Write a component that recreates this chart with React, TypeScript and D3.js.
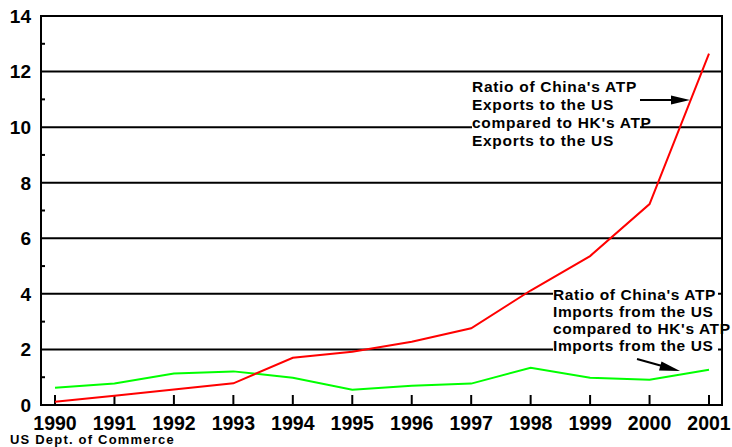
import React from "react";
import * as d3 from "d3";

const years = [1990, 1991, 1992, 1993, 1994, 1995, 1996, 1997, 1998, 1999, 2000, 2001];
const exportsRatio = [0.12, 0.33, 0.56, 0.78, 1.7, 1.92, 2.28, 2.76, 4.12, 5.36, 7.23, 12.65];
const importsRatio = [0.62, 0.77, 1.13, 1.21, 0.98, 0.55, 0.69, 0.77, 1.34, 0.98, 0.91, 1.27];
const yMajorTicks = [0, 2, 4, 6, 8, 10, 12, 14];
const yMinorTicks = [1, 3, 5, 7, 9, 11, 13];
const exportsLabel = ["Ratio of China's ATP", "Exports to the US", "compared to HK's ATP", "Exports to the US"];
const importsLabel = ["Ratio of China's ATP", "Imports from the US", "compared to HK's ATP", "Imports from the US"];
const source = "US Dept. of Commerce";

const W = 732;
const H = 447;
const left = 41;
const right = 722;

export default function App() {
  const x = d3.scaleLinear().domain([1990, 2001]).range([55, 709]);
  const y = d3.scaleLinear().domain([0, 14]).range([405, 16]);
  const line = d3
    .line<number>()
    .x((_, i) => x(years[i]))
    .y((d) => y(d));
  const font = "'Liberation Sans', Arial, Helvetica, sans-serif";

  return (
    <svg
      width={W}
      height={H}
      style={{ position: "absolute", left: 0, top: 0, background: "#fff" }}
      fontFamily={font}
      fontWeight="bold"
    >
      {/* gridlines */}
      {yMajorTicks
        .filter((t) => t > 0)
        .map((t) => (
          <line key={"g" + t} x1={left} x2={right} y1={y(t)} y2={y(t)} stroke="#000" strokeWidth={2} />
        ))}
      {/* minor ticks */}
      {yMinorTicks.map((t) => (
        <line key={"m" + t} x1={left} x2={left + 4} y1={y(t)} y2={y(t)} stroke="#000" strokeWidth={2} />
      ))}
      {/* x ticks */}
      {years.map((yr) => (
        <line key={"xt" + yr} x1={x(yr)} x2={x(yr)} y1={y(0)} y2={y(0) - 10} stroke="#000" strokeWidth={2} />
      ))}
      {/* white boxes behind annotations */}
      <rect x={472} y={76} width={168} height={56} fill="#fff" />
      <rect x={553} y={284} width={165} height={72} fill="#fff" />
      {/* axes frame */}
      <line x1={left} x2={left} y1={y(14) - 1} y2={y(0) + 1} stroke="#000" strokeWidth={2} />
      <line x1={right} x2={right} y1={y(14) - 1} y2={y(0) + 1} stroke="#000" strokeWidth={2} />
      <line x1={left} x2={right + 1} y1={y(0)} y2={y(0)} stroke="#000" strokeWidth={2} />
      {/* series */}
      <path d={line(importsRatio) || ""} fill="none" stroke="#00ff00" strokeWidth={2} />
      <path d={line(exportsRatio) || ""} fill="none" stroke="#ff0000" strokeWidth={2} />
      {/* y labels */}
      {yMajorTicks.map((t) => (
        <text key={"yl" + t} x={31} y={y(t)} dy="0.36em" textAnchor="end" fontSize={19} fill="#000">
          {t}
        </text>
      ))}
      {/* x labels */}
      {years.map((yr) => (
        <text key={"xl" + yr} x={x(yr)} y={430} textAnchor="middle" fontSize={19.5} fill="#000">
          {yr}
        </text>
      ))}
      {/* annotations */}
      {exportsLabel.map((s, i) => (
        <text key={"ea" + i} x={472} y={91.5 + i * 18.2} fontSize={15.5} letterSpacing={0.7} fill="#000">
          {s}
        </text>
      ))}
      {importsLabel.map((s, i) => (
        <text key={"ia" + i} x={553} y={300 + i * 17} fontSize={15.5} letterSpacing={0.6} fill="#000">
          {s}
        </text>
      ))}
      {/* arrows */}
      <line x1={640} y1={100} x2={674} y2={100} stroke="#000" strokeWidth={2} />
      <polygon points="690,100 671,95.5 671,104.5" fill="#000" />
      <line x1={637} y1={359} x2={664} y2={366.5} stroke="#000" strokeWidth={2} />
      <polygon points="680,371 661.5,361.5 659,370.5" fill="#000" />
      {/* source */}
      <text x={10} y={444} fontSize={13} letterSpacing={1.2} fill="#000">
        {source}
      </text>
    </svg>
  );
}
